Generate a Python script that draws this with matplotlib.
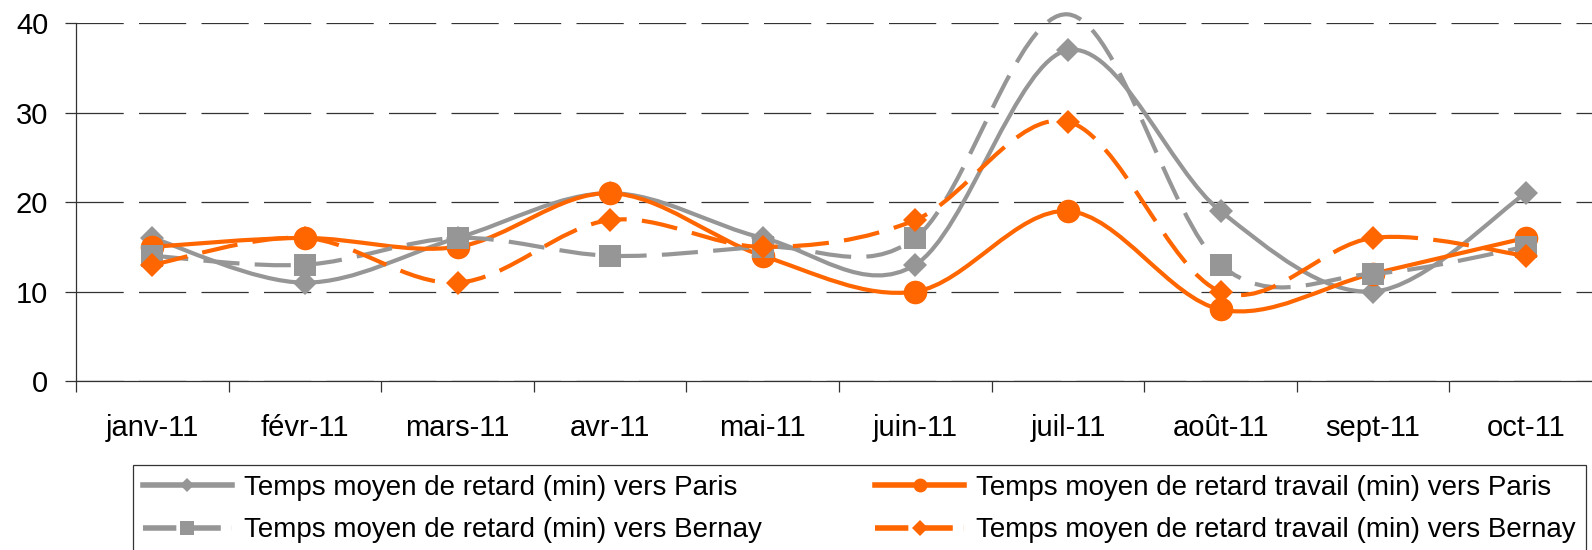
import numpy as np
import matplotlib
matplotlib.use("Agg")
import matplotlib.pyplot as plt
from matplotlib.path import Path
from matplotlib.patches import PathPatch
from matplotlib.lines import Line2D

plt.rcParams['font.family'] = ['Liberation Sans', 'DejaVu Sans']
plt.rcParams['lines.scale_dashes'] = False

# Data
months = ['janv-11', 'févr-11', 'mars-11', 'avr-11', 'mai-11',
          'juin-11', 'juil-11', 'août-11', 'sept-11', 'oct-11']
paris_retard = [16, 11, 16, 21, 16, 13, 37, 19, 10, 21]
paris_travail = [15, 16, 15, 21, 14, 10, 19, 8, 12, 16]
bernay_retard = [14, 13, 16, 14, 15, 16, 41, 13, 12, 15]
bernay_travail = [13, 16, 11, 18, 15, 18, 29, 10, 16, 14]

labels = ['Temps moyen de retard (min) vers Paris',
          'Temps moyen de retard travail (min) vers Paris',
          'Temps moyen de retard (min) vers Bernay',
          'Temps moyen de retard travail (min) vers Bernay']

GRAY = '#969696'
ORANGE = '#FF6600'
YMAX = 40


def smooth_path(xs, ys):
    """Excel-like smoothed line: cubic bezier segments through the points."""
    pts = np.column_stack([xs, ys]).astype(float)
    n = len(pts)
    verts = [pts[0]]
    codes = [Path.MOVETO]
    for i in range(n - 1):
        p0 = pts[max(i - 1, 0)]
        p1 = pts[i]
        p2 = pts[i + 1]
        p3 = pts[min(i + 2, n - 1)]
        c1 = p1 + (p2 - p0) / 6.0
        c2 = p2 - (p3 - p1) / 6.0
        verts += [c1, c2, p2]
        codes += [Path.CURVE4] * 3
    return Path(verts, codes)


fig = plt.figure(figsize=(15.92, 5.5), dpi=100)
ax = fig.add_axes([76 / 1592, 1 - 381 / 550, (1602 - 76) / 1592, (381 - 23.3) / 550])

x = np.arange(len(months))
dash = (0, (26, 11))
series = [
    (paris_retard, GRAY, '-', 'D', 12.5, 7),
    (paris_travail, ORANGE, '-', 'o', 17, 10),
    (bernay_retard, GRAY, dash, 's', 16, 10),
    (bernay_travail, ORANGE, dash, 'D', 12.5, 8),
]

handles = []
for i, (vals, col, ls, mk, ms, lms) in enumerate(series):
    patch = PathPatch(smooth_path(x, vals), fill=False, edgecolor=col,
                      linewidth=3, linestyle=ls, capstyle='butt',
                      joinstyle='round', clip_on=False, zorder=3 + i)
    ax.add_patch(patch)
    # markers above the value axis maximum are not shown
    mvals = np.array(vals, dtype=float)
    mvals[mvals > YMAX] = np.nan
    ax.plot(x, mvals, linestyle='none', marker=mk, markersize=ms,
            color=col, markeredgewidth=0, zorder=3 + i)
    hls = ls if ls == '-' else (0, (24, 8))
    handles.append(Line2D([], [], color=col, linewidth=4, linestyle=hls,
                          marker=mk, markersize=lms, markeredgewidth=0))

ax.set_xlim(-0.5, len(months) - 0.5)
ax.set_ylim(0, YMAX)
ax.set_yticks([0, 10, 20, 30, 40])
ax.yaxis.grid(True, color='#333333', linewidth=0.9, linestyle=(0, (34, 11)))
ax.set_axisbelow(True)

ax.set_xticks(np.arange(-0.5, len(months), 1.0))
ax.set_xticklabels([])
ax.set_xticks(x, minor=True)
ax.set_xticklabels(months, minor=True, fontsize=21)
ax.tick_params(axis='x', which='minor', length=0, pad=24)
ax.tick_params(axis='x', which='major', length=8, width=0.9, color='#333333')
ax.tick_params(axis='y', length=8, width=0.9, color='#333333', labelsize=21, pad=12)

for side in ['top', 'right']:
    ax.spines[side].set_visible(False)
for side in ['left', 'bottom']:
    ax.spines[side].set_color('#333333')
    ax.spines[side].set_linewidth(0.9)

order = [0, 2, 1, 3]
leg = fig.legend([handles[k] for k in order], [labels[k] for k in order],
                 loc='upper left', ncol=2,
                 bbox_to_anchor=(133 / 1592, 1 - 465 / 550),
                 fontsize=20, frameon=True, fancybox=False, edgecolor='black',
                 handlelength=3.2, handletextpad=0.43, borderaxespad=0,
                 labelspacing=0.6, borderpad=0.35, columnspacing=4.1)
leg.get_frame().set_linewidth(0.9)

fig.savefig('out.png', dpi=100)
